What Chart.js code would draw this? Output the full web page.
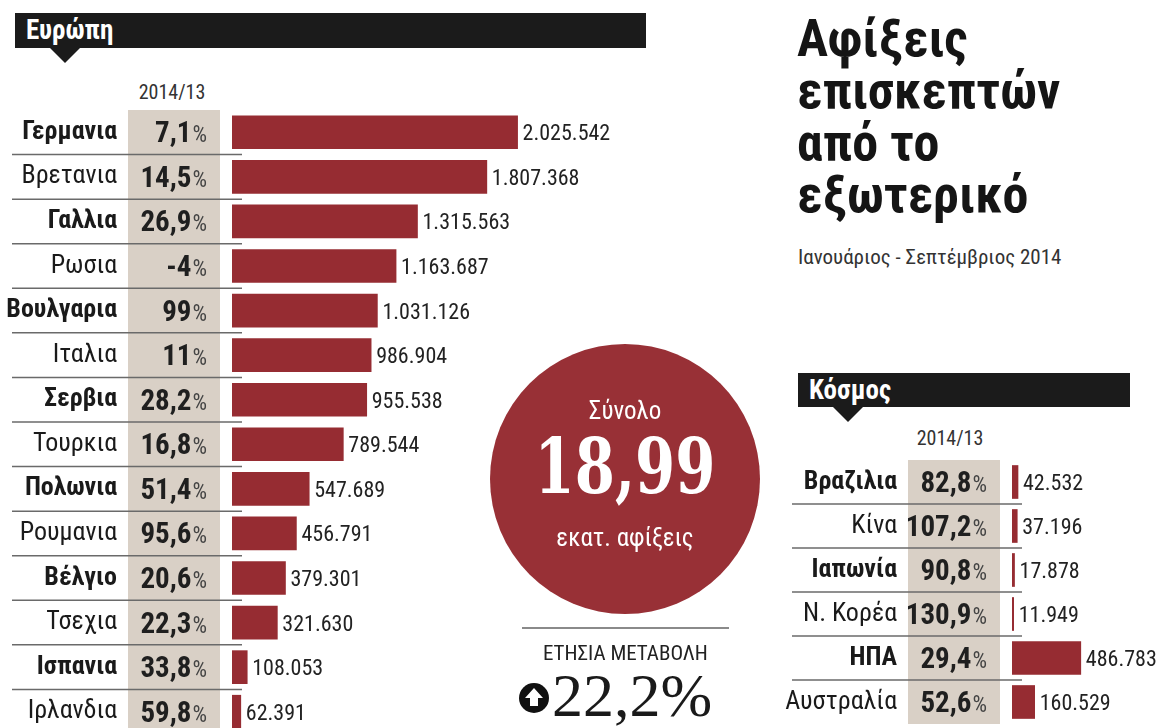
<!DOCTYPE html>
<html lang="el">
<head>
<meta charset="UTF-8">
<title>Αφίξεις επισκεπτών από το εξωτερικό</title>
<script src="https://cdn.jsdelivr.net/npm/chart.js@4.4.1/dist/chart.umd.min.js"></script>
<style>
  body {
    margin: 0; width: 1156px; height: 728px; overflow: hidden; position: relative;
    background: #fff; color: #1a1a1a;
    font-family: 'Liberation Sans Narrow', 'Roboto Condensed', 'DejaVu Sans Condensed', Roboto, sans-serif;
  }
  .abs { position: absolute; }
  .tab {
    background: #1b1b1b; color: #fff; font-weight: bold; font-size: 27px;
    line-height: 35px; padding-left: 11px; box-sizing: border-box;
  }
  .tab::after {
    content: ''; position: absolute; left: 35px; top: 100%;
    border-left: 15px solid transparent; border-right: 15px solid transparent;
    border-top: 15px solid #1b1b1b;
  }
  .period { font-size: 20px; color: #333; text-align: center; width: 100px; }
  .title { font-weight: bold; font-size: 52px; line-height: 52px; color: #151515; }
  .sub { font-size: 21px; color: #333; }
  .circle { border-radius: 50%; background: #983036; color: #fff; text-align: center; }
  .big { font-family: 'DejaVu Serif', serif; font-weight: bold; font-size: 76px; }
</style>
</head>
<body>
  <div class="abs tab" style="left:15px;top:13px;width:631px;height:35px">Ευρώπη</div>
  <div class="abs period" style="left:122px;top:80px">2014/13</div>
  <div class="abs" style="left:0;top:110px;width:655px;height:624px"><canvas id="europe"></canvas></div>

  <div class="abs title" style="left:797px;top:13px">Αφίξεις<br>επισκεπτών<br>από το<br>εξωτερικό</div>
  <div class="abs sub" style="left:798px;top:245px">Ιανουάριος - Σεπτέμβριος 2014</div>

  <div class="abs circle" style="left:490px;top:344px;width:270px;height:270px">
    <div class="abs" style="left:0;width:270px;top:52px;font-size:25px">Σύνολο</div>
    <div class="abs big" style="left:0;width:270px;top:78px;transform:scaleX(0.76)">18,99</div>
    <div class="abs" style="left:0;width:270px;top:179px;font-size:25px">εκατ. αφίξεις</div>
  </div>

  <div class="abs" style="left:522px;top:627px;width:207px;height:2px;background:#8a8a8a"></div>
  <div class="abs" style="left:520px;top:641px;width:211px;text-align:center;font-size:21px;color:#222">ΕΤΗΣΙΑ ΜΕΤΑΒΟΛΗ</div>
  <svg class="abs" style="left:519px;top:683px" width="30" height="30" viewBox="0 0 30 30">
    <circle cx="15" cy="15" r="15" fill="#111"/>
    <path d="M15 5 L24 15 L19 15 L19 23 L11 23 L11 15 L6 15 Z" fill="#fff"/>
  </svg>
  <div class="abs" style="left:552px;top:664px;font-family:'Liberation Serif',serif;font-size:62px;line-height:62px;color:#1a1a1a">22,2%</div>

  <div class="abs tab" style="left:798px;top:373px;width:332px;height:34px">Κόσμος</div>
  <div class="abs period" style="left:900px;top:426px">2014/13</div>
  <div class="abs" style="left:780px;top:460px;width:444px;height:264px"><canvas id="world"></canvas></div>

<script>
const FONT = "'Liberation Sans Narrow', 'Roboto Condensed', 'DejaVu Sans Condensed', Roboto, sans-serif";
const RED = '#962c32';
const BEIGE = '#d9d0c6';

// Ευρώπη: arrivals Jan-Sep 2014 and change vs 2013
const europeCountries = ['Γερμανια', 'Βρετανια', 'Γαλλια', 'Ρωσια', 'Βουλγαρια', 'Ιταλια', 'Σερβια',
  'Τουρκια', 'Πολωνια', 'Ρουμανια', 'Βέλγιο', 'Τσεχια', 'Ισπανια', 'Ιρλανδια'];
const europeChange = ['7,1', '14,5', '26,9', '-4', '99', '11', '28,2', '16,8', '51,4', '95,6', '20,6', '22,3', '33,8', '59,8'];
const europeArrivals = [2025542, 1807368, 1315563, 1163687, 1031126, 986904, 955538,
  789544, 547689, 456791, 379301, 321630, 108053, 62391];

// Κόσμος
const worldCountries = ['Βραζιλια', 'Κίνα', 'Ιαπωνία', 'Ν. Κορέα', 'ΗΠΑ', 'Αυστραλία'];
const worldChange = ['82,8', '107,2', '90,8', '130,9', '29,4', '52,6'];
const worldArrivals = [42532, 37196, 17878, 11949, 486783, 160529];

function fmt(n) {
  return String(n).replace(/\B(?=(\d{3})+(?!\d))/g, '.');
}

// beige change column, row rules, percentages and the value after each bar
const tablePlugin = {
  id: 'table',
  beforeDatasetsDraw(chart) {
    const { ctx, chartArea } = chart;
    const y = chart.scales.y;
    const left = chartArea.left;
    ctx.save();
    ctx.fillStyle = BEIGE;
    ctx.fillRect(left - 104, chartArea.top, 92, chartArea.bottom - chartArea.top);
    ctx.strokeStyle = '#6a6a6a';
    ctx.lineWidth = 1.5;
    const n = chart.data.labels.length;
    for (let i = 0; i < n - 1; i++) {
      const yy = (y.getPixelForValue(i) + y.getPixelForValue(i + 1)) / 2;
      ctx.beginPath();
      ctx.moveTo(left - 220, yy);
      ctx.lineTo(left + 10, yy);
      ctx.stroke();
    }
    ctx.restore();
  },
  afterDatasetsDraw(chart, args, opts) {
    const { ctx, chartArea } = chart;
    const y = chart.scales.y;
    const left = chartArea.left;
    ctx.save();
    ctx.textBaseline = 'alphabetic';
    opts.changes.forEach((c, i) => {
      const base = y.getPixelForValue(i) + 10;
      ctx.textAlign = 'right';
      ctx.font = `23px ${FONT}`;
      ctx.fillStyle = '#444';
      ctx.fillText('%', left - 25, base);
      const pw = ctx.measureText('%').width;
      ctx.font = `bold 29px ${FONT}`;
      ctx.fillStyle = '#1f1f1f';
      ctx.fillText(c, left - 26 - pw, base);
    });
    ctx.font = `22px ${FONT}`;
    ctx.fillStyle = '#222';
    ctx.textAlign = 'left';
    const values = chart.data.datasets[0].data;
    chart.getDatasetMeta(0).data.forEach((bar, i) => {
      ctx.fillText(fmt(values[i]), bar.x + 5, bar.y + 8);
    });
    ctx.restore();
  }
};

function makeChart(id, labels, values, changes, max) {
  return new Chart(document.getElementById(id), {
    type: 'bar',
    data: {
      labels: labels,
      datasets: [{ data: values, backgroundColor: RED, barThickness: 33 }]
    },
    options: {
      indexAxis: 'y',
      responsive: true,
      maintainAspectRatio: false,
      animation: false,
      layout: { padding: 0 },
      plugins: {
        legend: { display: false },
        tooltip: { enabled: false },
        table: { changes: changes }
      },
      scales: {
        x: { display: false, min: 0, max: max },
        y: {
          // fixed gutter for names and the change column; no extra top/bottom room
          afterFit(scale) {
            scale.width = 232;
            scale.paddingTop = 0;
            scale.paddingBottom = 0;
          },
          grid: { display: false, drawTicks: false },
          border: { display: false },
          ticks: {
            autoSkip: false,
            padding: 115,
            color: '#1a1a1a',
            font: ctx => ({ family: FONT, size: 26, weight: ctx.index % 2 ? 'normal' : 'bold' })
          }
        }
      }
    },
    plugins: [tablePlugin]
  });
}

makeChart('europe', europeCountries, europeArrivals, europeChange, 3000000);
makeChart('world', worldCountries, worldArrivals, worldChange, 1500000);
</script>
</body>
</html>
